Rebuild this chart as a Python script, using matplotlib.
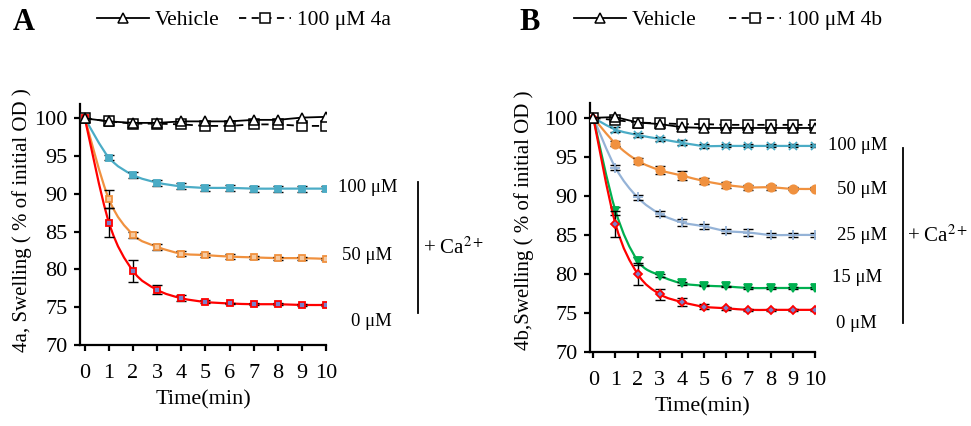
import matplotlib
matplotlib.use("Agg")
import matplotlib.pyplot as plt
import numpy as np
from matplotlib.path import Path
from matplotlib.patches import PathPatch
from matplotlib.lines import Line2D

plt.rcParams["font.family"] = ["Liberation Serif", "DejaVu Serif"]
plt.rcParams["mathtext.fontset"] = "stix"

W, H = 971, 426

time = list(range(11))

# ---- panel A : compound 4a ----
a_vehicle = [100, 99.6, 99.4, 99.4, 99.6, 99.6, 99.6, 99.8, 99.8, 100.1, 100.2]
a_drug = [100, 99.6, 99.3, 99.3, 99.2, 99.0, 99.0, 99.2, 99.2, 99.0, 99.0]
a_100 = [100, 94.8, 92.5, 91.5, 91.0, 90.8, 90.8, 90.7, 90.7, 90.7, 90.7]
a_100_err = [0, 0.3, 0.4, 0.4, 0.4, 0.4, 0.4, 0.4, 0.4, 0.4, 0.3]
a_50 = [100, 89.3, 84.6, 83.0, 82.1, 81.9, 81.7, 81.6, 81.5, 81.5, 81.4]
a_50_err = [0, 1.2, 0.4, 0.4, 0.3, 0.3, 0.3, 0.2, 0.2, 0.2, 0.1]
a_0 = [100, 86.2, 79.8, 77.3, 76.2, 75.7, 75.5, 75.4, 75.4, 75.3, 75.3]
a_0_err = [0, 1.9, 1.4, 0.6, 0.4, 0.2, 0.1, 0.1, 0.1, 0.1, 0.1]

# ---- panel B : compound 4b ----
b_vehicle = [100, 100.1, 99.4, 99.2, 98.8, 98.7, 98.7, 98.7, 98.7, 98.7, 98.7]
b_drug = [100, 99.7, 99.4, 99.3, 99.2, 99.2, 99.1, 99.1, 99.1, 99.1, 99.1]
b_100 = [100, 98.5, 97.8, 97.3, 96.8, 96.4, 96.4, 96.4, 96.4, 96.4, 96.4]
b_100_err = [0, 0.3, 0.3, 0.3, 0.3, 0.3, 0.2, 0.2, 0.2, 0.2, 0.2]
b_50 = [100, 96.7, 94.5, 93.3, 92.6, 91.9, 91.4, 91.1, 91.1, 90.9, 90.9]
b_50_err = [0, 0.3, 0.4, 0.5, 0.6, 0.4, 0.4, 0.3, 0.3, 0.2, 0.2]
b_25 = [100, 93.6, 89.8, 87.7, 86.6, 86.1, 85.5, 85.3, 85.0, 85.0, 85.0]
b_25_err = [0, 0.3, 0.3, 0.3, 0.4, 0.3, 0.3, 0.4, 0.3, 0.3, 0.3]
b_15 = [100, 88.1, 81.7, 79.8, 78.8, 78.5, 78.4, 78.2, 78.2, 78.2, 78.2]
b_15_err = [0, 0.5, 0.5, 0.2, 0.2, 0.1, 0.1, 0.1, 0.1, 0.1, 0.1]
b_0 = [100, 86.4, 80.0, 77.4, 76.4, 75.8, 75.6, 75.4, 75.4, 75.4, 75.4]
b_0_err = [0, 1.7, 1.4, 0.7, 0.5, 0.3, 0.2, 0.1, 0.1, 0.1, 0.1]

conc_labels_a = ["100 \u03bcM", "50 \u03bcM", "0 \u03bcM"]
conc_labels_b = ["100 \u03bcM", "50 \u03bcM", "25 \u03bcM", "15 \u03bcM", "0 \u03bcM"]

TEAL = "#4BACC6"
ORANGE = "#F0913F"
RED = "#FF0000"
LBLUE = "#95B3D7"
GREEN = "#00B050"


def smooth_path(x, y):
    # excel-like smoothed line: bezier segments through the points
    x = np.asarray(x, float)
    y = np.asarray(y, float)
    n = len(x)
    verts = [(x[0], y[0])]
    codes = [Path.MOVETO]
    for i in range(n - 1):
        p0 = max(i - 1, 0)
        p3 = min(i + 2, n - 1)
        c1 = (x[i] + (x[i + 1] - x[p0]) / 6, y[i] + (y[i + 1] - y[p0]) / 6)
        c2 = (x[i + 1] - (x[p3] - x[i]) / 6, y[i + 1] - (y[p3] - y[i]) / 6)
        verts += [c1, c2, (x[i + 1], y[i + 1])]
        codes += [Path.CURVE4] * 3
    return Path(verts, codes)


def curve(ax, y, err, color, marker, ms, mfc, z):
    ax.add_patch(PathPatch(smooth_path(time, y), fill=False, edgecolor=color,
                           lw=1.6, zorder=z))
    ax.errorbar(time, y, yerr=err, fmt="none", ecolor="black", elinewidth=1.0,
                capsize=3.3, capthick=1.0, zorder=z + 0.5)
    ax.plot(time, y, ls="none", marker=marker, ms=ms, mfc=mfc, mec=color,
            mew=1.3, zorder=z + 1)


def style_axes(ax):
    ax.set_ylim(70, 101.9)
    ax.set_yticks(range(70, 101, 5))
    ax.set_xticks(time)
    for s in ["top", "right"]:
        ax.spines[s].set_visible(False)
    for s in ["left", "bottom"]:
        ax.spines[s].set_linewidth(1.6)
    ax.tick_params(direction="out", length=4, width=1.6, labelsize=16, pad=5)
    ax.tick_params(axis="x", pad=10)
    ax.set_xlabel("Time(min)", fontsize=16, labelpad=5)


def ftext(x, y, s, **kw):
    fig.text(x / W, 1 - y / H, s, **kw)


fig = plt.figure(figsize=(W / 100, H / 100), dpi=100)

# ---------------- panel A ----------------
axA = fig.add_axes([80 / W, 1 - 345 / H, 246 / W, 241 / H])
axA.set_xlim(-0.2, 10)
vA, = axA.plot(time, a_vehicle, color="black", lw=1.3, marker="^", ms=7.5,
               mfc="white", mec="black", mew=1.1, zorder=6)
dA, = axA.plot(time, a_drug, color="black", lw=1.3, ls=(0, (4, 3)), marker="s",
               ms=7.5, mfc="white", mec="black", mew=1.1, zorder=5)
curve(axA, a_100, a_100_err, TEAL, "s", 5, TEAL, 2)
curve(axA, a_50, a_50_err, ORANGE, "s", 4.5, "#F5C9A0", 3)
curve(axA, a_0, a_0_err, RED, "s", 4.5, "#7A7FC8", 4)
style_axes(axA)

# ---------------- panel B ----------------
axB = fig.add_axes([590 / W, 1 - 352 / H, 225 / W, 249 / H])
axB.set_xlim(-0.15, 10)
vB, = axB.plot(time, b_vehicle, color="black", lw=1.3, marker="^", ms=7.5,
               mfc="white", mec="black", mew=1.1, zorder=7)
dB, = axB.plot(time, b_drug, color="black", lw=1.3, ls=(0, (4, 3)), marker="s",
               ms=7.5, mfc="white", mec="black", mew=1.1, zorder=6)
curve(axB, b_100, b_100_err, TEAL, "x", 6, TEAL, 1)
curve(axB, b_50, b_50_err, ORANGE, "o", 6, ORANGE, 2)
curve(axB, b_25, b_25_err, LBLUE, "+", 7, LBLUE, 3)
curve(axB, b_15, b_15_err, GREEN, "v", 6, GREEN, 4)
curve(axB, b_0, b_0_err, RED, "D", 4.5, "#7A7FC8", 5)
style_axes(axB)

# y labels
ftext(22, 220, "4a, Swelling ( % of initial OD )", rotation=90, fontsize=15,
      ha="center", va="center")
ftext(524, 220, "4b,Swelling ( % of initial OD )", rotation=90, fontsize=15,
      ha="center", va="center")

# panel letters
ftext(24, 22, "A", fontsize=22, fontweight="bold", ha="center", va="center")
ftext(530, 22, "B", fontsize=22, fontweight="bold", ha="center", va="center")

# legends
for handles, labels, x0, gap in [
    ([vA, dA], ["Vehicle", "100 \u03bcM 4a"], 97, 0.9),
    ([vB, dB], ["Vehicle", "100 \u03bcM 4b"], 574, 1.5),
]:
    fig.legend(handles, labels, loc="center left", ncol=2, frameon=False,
               bbox_to_anchor=(x0 / W, 1 - 20 / H), fontsize=15.5,
               handlelength=2.4, handletextpad=0.3, columnspacing=gap,
               borderpad=0, borderaxespad=0)

# concentration labels, panel A
for lab, x, y in zip(conc_labels_a, [397, 392, 392], [188, 256, 322]):
    ftext(x, y, lab, fontsize=13.5, ha="right", va="center")
fig.add_artist(Line2D([418 / W, 418 / W], [1 - 182 / H, 1 - 313 / H],
                      color="black", lw=1.3))
ftext(423, 248, "+ Ca$^{2+}$", fontsize=15, ha="left", va="center")

# concentration labels, panel B
for lab, x, y in zip(conc_labels_b, [887, 887, 887, 882, 877],
                     [145, 190, 235, 278, 323]):
    ftext(x, y, lab, fontsize=13.5, ha="right", va="center")
fig.add_artist(Line2D([903 / W, 903 / W], [1 - 148 / H, 1 - 323 / H],
                      color="black", lw=1.3))
ftext(907, 236, "+ Ca$^{2+}$", fontsize=15, ha="left", va="center")

fig.savefig("out.png", dpi=100)
